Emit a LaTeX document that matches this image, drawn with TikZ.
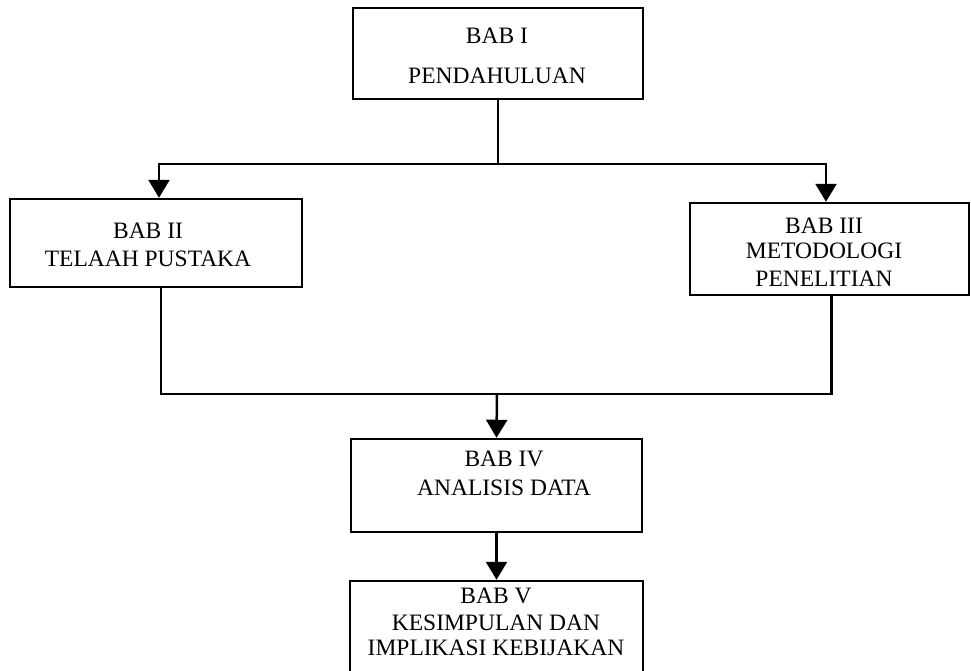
\documentclass[tikz,border=0pt]{standalone}
\usepackage{fontspec}
\setmainfont{Liberation Serif}
\usetikzlibrary{arrows.meta}
\begin{document}
\begin{tikzpicture}[x=1pt,y=-1pt,
  chapbox/.style={draw, line width=2.5pt, inner sep=0pt},
  caption/.style={anchor=base, inner sep=0pt, font=\fontsize{23.5}{27}\selectfont},
  link/.style={line width=2.5pt},
  flow/.style={link, -{Triangle[length=18pt,width=21pt]}}]
\useasboundingbox (0,0) rectangle (971,670);

% chapter boxes
\node[chapbox, minimum width=290, minimum height=91] (b1) at (498,53.5) {};
\node[chapbox, minimum width=292, minimum height=88] (b2) at (156,243) {};
\node[chapbox, minimum width=279, minimum height=92] (b3) at (829.5,249) {};
\node[chapbox, minimum width=291, minimum height=93] (b4) at (496.5,485.5) {};
\node[chapbox, minimum width=293, minimum height=96] (b5) at (496.5,629) {};

% chapter titles
\node[caption] (t1a) at (497,43) {BAB I};
\node[caption] (t1b) at (497,83) {PENDAHULUAN};
\node[caption] (t2a) at (148,238) {BAB II};
\node[caption] (t2b) at (148,266) {TELAAH PUSTAKA};
\node[caption] (t3a) at (824,233) {BAB III};
\node[caption] (t3b) at (824,258) {METODOLOGI};
\node[caption] (t3c) at (824,286) {PENELITIAN};
\node[caption] (t4a) at (504,466) {BAB IV};
\node[caption] (t4b) at (504,495) {ANALISIS DATA};
\node[caption] (t5a) at (496,603) {BAB V};
\node[caption] (t5b) at (496,630) {KESIMPULAN DAN};
\node[caption] (t5c) at (496,655) {IMPLIKASI KEBIJAKAN};

% branching and merging connectors
\coordinate (split) at (498,164);
\coordinate (merge) at (497,394);
\draw[link] (b1.south) -- (split);
\draw[flow] (split) -| ([xshift=3]b2.north);
\draw[flow] (split) -| ([xshift=-3.5]b3.north);
\draw[link] ([xshift=5]b2.south) |- (merge) -| ([xshift=2]b3.south);
\draw[flow] (merge) -- (b4.north);
\draw[flow] (b4.south) -- (b5.north);
\end{tikzpicture}
\end{document}
